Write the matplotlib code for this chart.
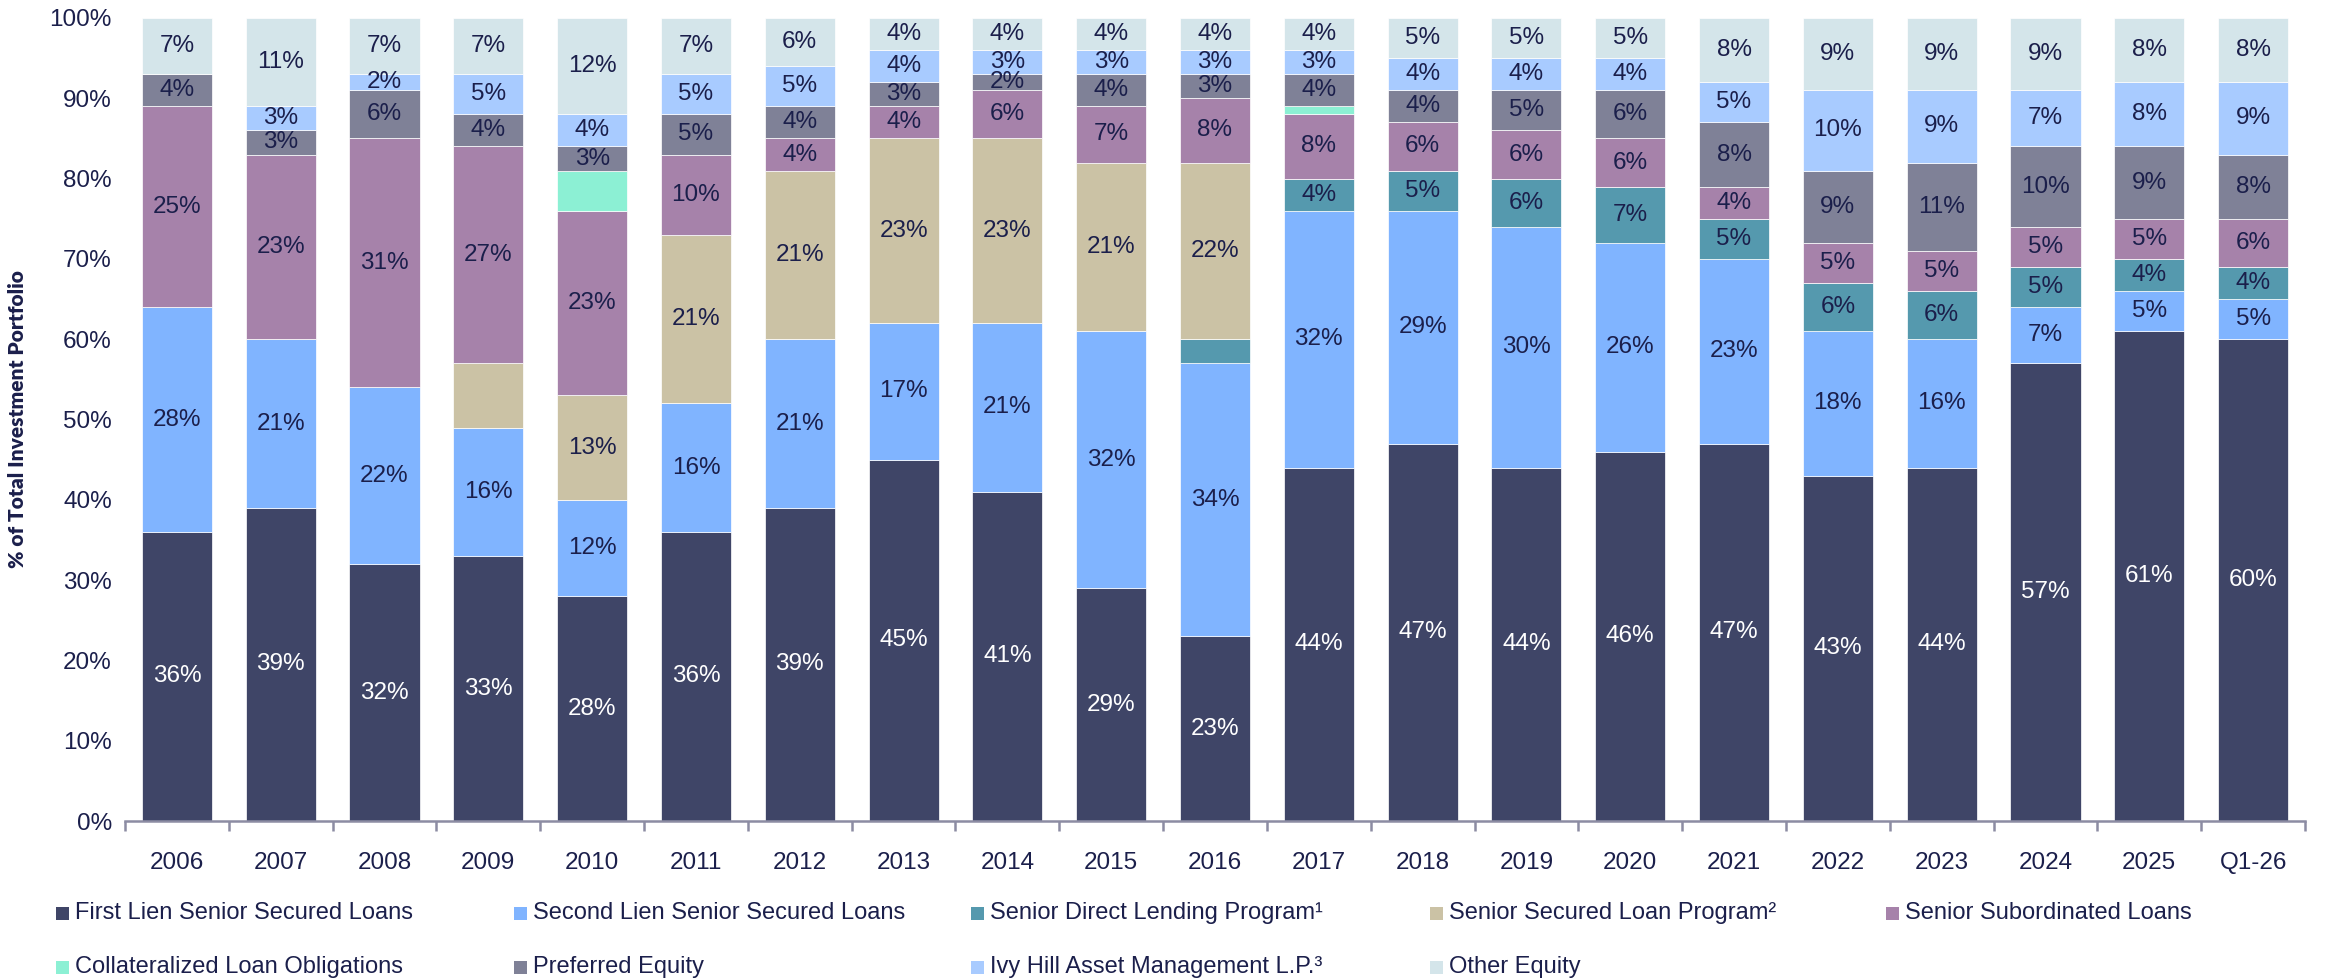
import numpy as np
import matplotlib
matplotlib.use("Agg")
import matplotlib.pyplot as plt
from matplotlib.patches import Rectangle

plt.rcParams["font.family"] = ["Liberation Sans", "DejaVu Sans"]

years = ["2006", "2007", "2008", "2009", "2010", "2011", "2012", "2013", "2014",
         "2015", "2016", "2017", "2018", "2019", "2020", "2021", "2022", "2023",
         "2024", "2025", "Q1-26"]

# stacked bottom -> top, % of portfolio
first_lien = [36, 39, 32, 33, 28, 36, 39, 45, 41, 29, 23, 44, 47, 44, 46, 47, 43, 44, 57, 61, 60]
second_lien = [28, 21, 22, 16, 12, 16, 21, 17, 21, 32, 34, 32, 29, 30, 26, 23, 18, 16, 7, 5, 5]
sdlp = [0, 0, 0, 0, 0, 0, 0, 0, 0, 0, 3, 4, 5, 6, 7, 5, 6, 6, 5, 4, 4]
sslp = [0, 0, 0, 8, 13, 21, 21, 23, 23, 21, 22, 0, 0, 0, 0, 0, 0, 0, 0, 0, 0]
senior_sub = [25, 23, 31, 27, 23, 10, 4, 4, 6, 7, 8, 8, 6, 6, 6, 4, 5, 5, 5, 5, 6]
clo = [0, 0, 0, 0, 5, 0, 0, 0, 0, 0, 0, 1, 0, 0, 0, 0, 0, 0, 0, 0, 0]
preferred = [4, 3, 6, 4, 3, 5, 4, 3, 2, 4, 3, 4, 4, 5, 6, 8, 9, 11, 10, 9, 8]
ivy_hill = [0, 3, 2, 5, 4, 5, 5, 4, 3, 3, 3, 3, 4, 4, 4, 5, 10, 9, 7, 8, 9]
other_equity = [7, 11, 7, 7, 12, 7, 6, 4, 4, 4, 4, 4, 5, 5, 5, 8, 9, 9, 9, 8, 8]

series = [
    ("First Lien Senior Secured Loans", first_lien, "#3f4567"),
    ("Second Lien Senior Secured Loans", second_lien, "#80b4ff"),
    ("Senior Direct Lending Program\u00b9", sdlp, "#5599ae"),
    ("Senior Secured Loan Program\u00b2", sslp, "#cbc2a5"),
    ("Senior Subordinated Loans", senior_sub, "#a682aa"),
    ("Collateralized Loan Obligations", clo, "#8cf0d4"),
    ("Preferred Equity", preferred, "#7f8197"),
    ("Ivy Hill Asset Management L.P.\u00b3", ivy_hill, "#a8cbff"),
    ("Other Equity", other_equity, "#d4e5ea"),
]

# segments drawn without a value label in the original
unlabeled = [(3, "2009"), (5, "2010"), (2, "2016"), (5, "2017")]

TEXT = "#1b1f4b"
AXIS = "#8c8ca3"
FS = 17.5

W, H = 2328, 980
fig = plt.figure(figsize=(W / 100, H / 100), dpi=100)
ax = fig.add_axes([125 / W, 159 / H, 2180 / W, 803 / H])

x = np.arange(len(years))
bottom = np.zeros(len(years))
for si, (name, vals, color) in enumerate(series):
    vals = np.asarray(vals, dtype=float)
    ax.bar(x, vals, 0.675, bottom=bottom, color=color, edgecolor="white",
           linewidth=0.5)
    for i, v in enumerate(vals):
        if v <= 0 or (si, years[i]) in unlabeled:
            continue
        ax.text(x[i], bottom[i] + v / 2, f"{int(v)}%", ha="center", va="center",
                fontsize=FS, color="white" if si == 0 else TEXT)
    bottom += vals

ax.set_xlim(-0.5, len(years) - 0.5)
ax.set_ylim(0, 100)
ax.set_yticks(np.arange(0, 101, 10))
ax.set_yticklabels([f"{t}%" for t in range(0, 101, 10)])
ax.set_xticks(x)
ax.set_xticklabels(years)
ax.set_xticks(np.arange(-0.5, len(years)), minor=True)
ax.tick_params(axis="x", which="major", length=0, pad=22, labelsize=FS,
               labelcolor=TEXT)
ax.tick_params(axis="x", which="minor", length=7, width=1.8, color=AXIS)
ax.tick_params(axis="y", length=0, pad=9.5, labelsize=FS, labelcolor=TEXT)
for side in ("top", "right", "left"):
    ax.spines[side].set_visible(False)
ax.spines["bottom"].set_color(AXIS)
ax.spines["bottom"].set_linewidth(1.8)
ax.set_ylabel("% of Total Investment Portfolio", fontsize=15, fontweight="heavy",
              color=TEXT, family=["Lato", "DejaVu Sans"])
ax.yaxis.set_label_coords(-(125 - 27) / 2180, 0.5)

# legend laid out in two rows like the original
col_x = [56, 514, 971, 1430, 1886]
row_y = [913, 967]
for k, (name, vals, color) in enumerate(series):
    row, col = (0, k) if k < 5 else (1, k - 5)
    px, py = col_x[col], row_y[row]
    fig.add_artist(Rectangle((px / W, (H - py - 7) / H), 13 / W, 13 / H,
                             transform=fig.transFigure, facecolor=color,
                             edgecolor="none"))
    fig.text((px + 19) / W, (H - py) / H, name, ha="left", va="center",
             fontsize=17, color=TEXT)

fig.savefig("out.png", dpi=100)
